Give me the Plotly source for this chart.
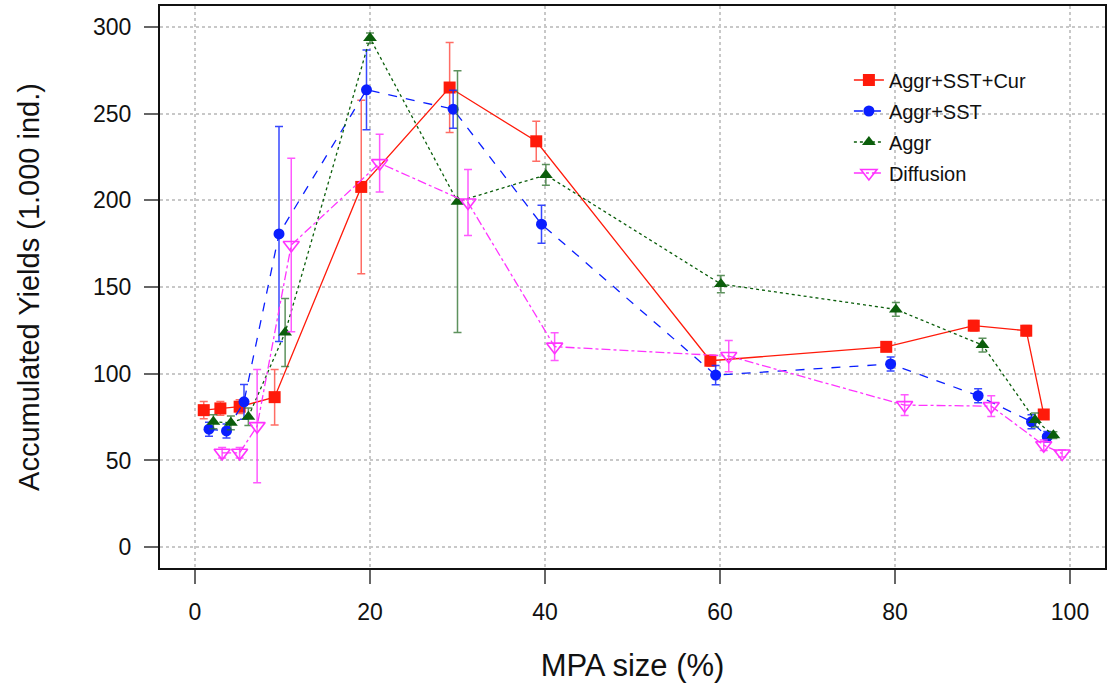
import plotly.graph_objects as go

# Aggr+SST+Cur
x_cur = [1.0, 2.9, 5.1, 9.1, 19.0, 29.1, 39.0, 58.9, 79.0, 89.0, 95.0, 97.0]
y_cur = [79, 80, 81, 86.5, 207.7, 265, 234, 107.5, 115.5, 127.7, 124.8, 76.5]
e_cur = [5, 4, 4, 16, 50, 26, 11.5, 3, 1.5, 3, 3, 2]

# Aggr+SST
x_sst = [1.6, 3.6, 5.6, 9.6, 19.6, 29.5, 39.6, 59.5, 79.5, 89.5, 95.6, 97.4]
y_sst = [68, 67, 83.8, 180.6, 263.7, 252.5, 186.2, 99.2, 105.6, 87.3, 72.3, 63.7]
e_sst = [4, 4, 10, 62, 23, 11, 11, 5.5, 4, 4, 4, 3]

# Aggr
x_agg = [2.1, 4.1, 6.1, 10.3, 20.0, 30.0, 40.1, 60.1, 80.1, 90.0, 96.0, 98.1]
y_agg = [72.3, 71.7, 75.2, 123.7, 293.5, 199.2, 214.6, 151.7, 137.1, 116.5, 73.3, 64.6]
e_agg = [4, 4, 5, 19.6, 3, 75.5, 6, 5, 4, 4, 4, 2]

# Diffusion
x_dif = [3.1, 5.1, 7.1, 11.0, 21.1, 31.2, 41.1, 61.0, 81.1, 91.0, 97.0, 99.1]
y_dif = [54.4, 54.4, 69.8, 174.2, 221.4, 198.7, 115.6, 110.2, 81.9, 81.3, 58.8, 54.0]
e_dif = [3, 3, 32.7, 50, 16.7, 19, 8, 9, 6, 6, 3, 2]

x_ticks = [0, 20, 40, 60, 80, 100]
y_ticks = [0, 50, 100, 150, 200, 250, 300]

series = [
    ("Aggr+SST+Cur", x_cur, y_cur, e_cur, "#ff1a0a", "solid", "square", 12, "rgba(255,60,50,0.75)"),
    ("Aggr+SST", x_sst, y_sst, e_sst, "#0a1eff", "dash", "circle", 11, "rgba(20,40,255,0.85)"),
    ("Aggr", x_agg, y_agg, e_agg, "#0b5e0b", "dot", "triangle-up", 12, "rgba(40,110,40,0.75)"),
    ("Diffusion", x_dif, y_dif, e_dif, "#ff33ff", "dashdot", "triangle-down-open", 14, "rgba(255,60,255,0.85)"),
]

fig = go.Figure()
for name, xs, ys, es, col, dash, sym, sz, ecol in series:
    fig.add_trace(go.Scatter(
        x=xs, y=ys, name=name, legendgroup=name, mode="lines+markers",
        line=dict(color=col, width=1.3, dash=dash),
        marker=dict(symbol=sym, size=sz, color=col,
                    line=dict(color=col, width=1.6 if "open" in sym else 0)),
        error_y=dict(type="data", array=es, visible=True, color=ecol,
                     thickness=1.5, width=4),
    ))

fig.update_layout(
    width=1107, height=694,
    margin=dict(l=160, r=0, t=6, b=126),
    paper_bgcolor="white", plot_bgcolor="white",
    font=dict(family="Liberation Sans, Arial, sans-serif", color="#111"),
    showlegend=True,
    legend=dict(x=0.729, y=0.903, xanchor="left", yanchor="top",
                bgcolor="rgba(0,0,0,0)", font=dict(size=20),
                tracegroupgap=2, itemwidth=30),
)
fig.update_xaxes(
    range=[-4, 104], tickvals=x_ticks, ticks="outside", ticklen=14,
    tickcolor="#666", tickwidth=1.5, tickfont=dict(size=23),
    ticklabelstandoff=8,
    showline=True, linecolor="#111", linewidth=2, mirror=True,
    showgrid=True, gridcolor="#c8c8c8", griddash="dot", gridwidth=1.5,
    zeroline=False,
    title=dict(text="MPA size (%)", font=dict(size=31), standoff=31),
)
fig.update_yaxes(
    range=[-12, 312], tickvals=y_ticks, ticks="outside", ticklen=14,
    tickcolor="#666", tickwidth=1.5, tickfont=dict(size=23),
    ticklabelstandoff=8,
    showline=True, linecolor="#111", linewidth=2, mirror=True,
    showgrid=True, gridcolor="#c8c8c8", griddash="dot", gridwidth=1.5,
    zeroline=False,
    title=dict(text="Accumulated Yields (1.000 ind.)", font=dict(size=29), standoff=45),
)

fig.write_html("out.html")
